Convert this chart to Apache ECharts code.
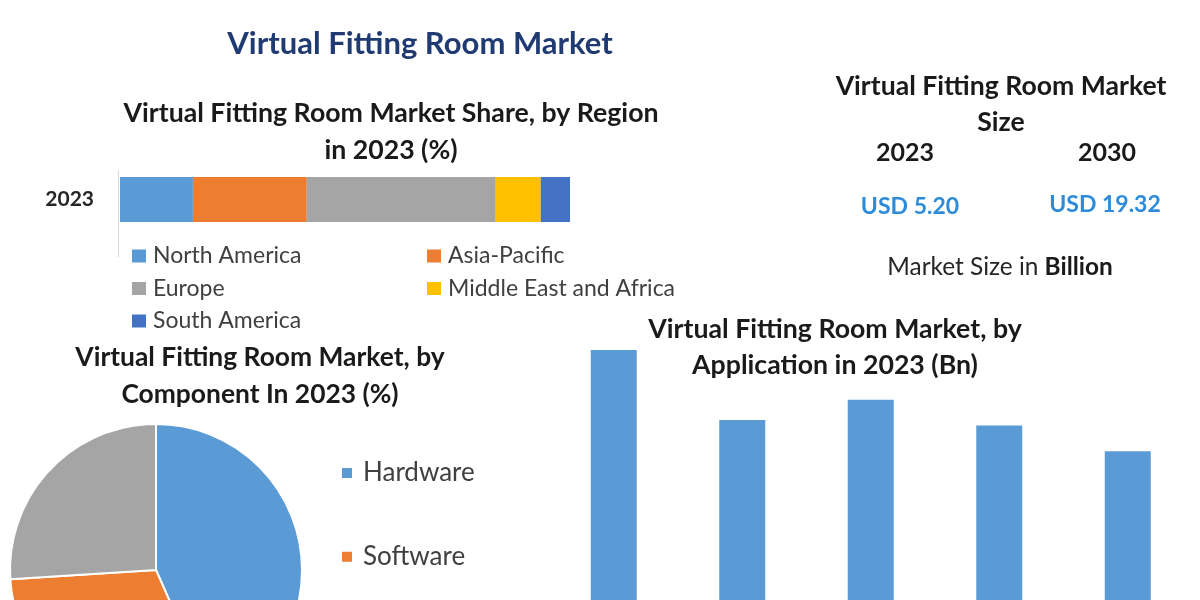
<!DOCTYPE html>
<html>
<head>
<meta charset="utf-8">
<script src="https://cdn.jsdelivr.net/npm/echarts@6/dist/echarts.min.js"></script>
<style>
  html, body { margin: 0; padding: 0; background: #fff; }
  #main { width: 1200px; height: 600px; }
</style>
</head>
<body>
<div id="main"></div>
<script>
// ---- Data ----
const regionYear = ['2023'];
const regionNames = ['North America', 'Asia-Pacific', 'Europe', 'Middle East and Africa', 'South America'];
const regionShares = [16.2, 25.3, 42.0, 10.0, 6.5];
const regionColors = ['#5B9BD5', '#ED7D31', '#A5A5A5', '#FFC000', '#4472C4'];

const componentNames = ['Hardware', 'Software', 'Services'];
const componentShares = [43.4, 30.6, 26.0];
const componentColors = ['#5B9BD5', '#ED7D31', '#A5A5A5'];

const applicationNames = ['Apparel', 'Beauty & Cosmetics', 'Eyewear', 'Jewelry & Watches', 'Others'];
const applicationValues = [1.36, 0.98, 1.09, 0.95, 0.81];

const sizeYears = ['2023', '2030'];
const sizeValues = ['USD 5.20', 'USD 19.32'];

// ---- Chart ----
const FONT = 'Lato, "Noto Sans", sans-serif';
const chart = echarts.init(document.getElementById('main'), null, { renderer: 'canvas' });

function txt(x, y, text, size, color, weight) {
  return {
    type: 'text', x: x, y: y, silent: true,
    style: {
      text: text, fill: color || '#1a1a1a',
      font: (weight || 'bold') + ' ' + size + 'px ' + FONT,
      align: 'center', verticalAlign: 'middle'
    }
  };
}

const regionSeries = regionNames.map((name, i) => ({
  name: name, type: 'bar', stack: 'region', xAxisIndex: 0, yAxisIndex: 0,
  barWidth: 45, data: [regionShares[i]],
  itemStyle: { color: regionColors[i] }, emphasis: { disabled: true }
}));

const legendText = { fontFamily: FONT, fontSize: 23, color: '#404040', lineHeight: 23, padding: [0, 0, 0, 2] };

const option = {
  backgroundColor: '#ffffff',
  animation: false,
  graphic: [
    txt(420, 44, 'Virtual Fitting Room Market', 31, '#203A72'),
    txt(391, 113, 'Virtual Fitting Room Market Share, by Region', 26.7),
    txt(391, 150, 'in 2023 (%)', 26.7),
    txt(260, 357, 'Virtual Fitting Room Market, by', 26.4),
    txt(260, 394, 'Component In 2023 (%)', 26.4),
    txt(835, 329, 'Virtual Fitting Room Market, by', 26.7),
    txt(835, 365, 'Application in 2023 (Bn)', 26.7),
    txt(1001, 86, 'Virtual Fitting Room Market', 26.6),
    txt(1001, 122, 'Size', 26.6),
    txt(905, 153, sizeYears[0], 25),
    txt(1107, 153, sizeYears[1], 25),
    txt(910, 207, sizeValues[0], 23, '#2E8BDA'),
    txt(1105, 205, sizeValues[1], 23, '#2E8BDA'),
    {
      type: 'text', x: 1000, y: 267, silent: true,
      style: {
        text: 'Market Size in {b|Billion}',
        fill: '#262626', font: 'normal 24.4px ' + FONT,
        align: 'center', verticalAlign: 'middle',
        rich: { b: { fontWeight: 'bold', fontSize: 24.4, fontFamily: FONT, fill: '#1a1a1a' } }
      }
    },
    { type: 'line', silent: true, shape: { x1: 118.5, y1: 170, x2: 118.5, y2: 257 },
      style: { stroke: '#D9D9D9', lineWidth: 1 } }
  ],
  legend: [
    { data: ['North America', 'Europe', 'South America'], orient: 'vertical', left: 132, top: 244.5, padding: 0,
      itemWidth: 14, itemHeight: 13, itemGap: 9.5, icon: 'rect', selectedMode: false, textStyle: legendText },
    { data: ['Asia-Pacific', 'Middle East and Africa'], orient: 'vertical', left: 427, top: 244.5, padding: 0,
      itemWidth: 14, itemHeight: 13, itemGap: 9.5, icon: 'rect', selectedMode: false, textStyle: legendText },
    { data: componentNames, orient: 'vertical', left: 340, top: 460, padding: 0, height: 400,
      itemWidth: 12, itemHeight: 12, itemGap: 57.7, icon: 'rect', selectedMode: false,
      textStyle: { fontFamily: FONT, fontSize: 26, color: '#404040', lineHeight: 26, padding: [0, 0, 0, 5] } }
  ],
  grid: [
    { left: 120, width: 450, top: 177, height: 45 },
    { left: 549.5, width: 642.5, top: 324.4, bottom: 0 }
  ],
  xAxis: [
    { type: 'value', gridIndex: 0, min: 0, max: 100, show: false },
    { type: 'category', gridIndex: 1, data: applicationNames,
      axisLine: { show: false }, axisTick: { show: false }, axisLabel: { show: false } }
  ],
  yAxis: [
    { type: 'category', gridIndex: 0, data: regionYear,
      axisLine: { show: false }, axisTick: { show: false },
      axisLabel: { margin: 26, fontFamily: FONT, fontSize: 21, fontWeight: 'bold', color: '#262626' } },
    { type: 'value', gridIndex: 1, min: 0, max: 1.5, show: false, splitLine: { show: false } }
  ],
  series: regionSeries.concat([
    {
      name: 'Application', type: 'bar', xAxisIndex: 1, yAxisIndex: 1,
      barWidth: 46, data: applicationValues,
      itemStyle: { color: '#5B9BD5' }, emphasis: { disabled: true }
    },
    {
      name: 'Component', type: 'pie', center: [156, 570], radius: 146,
      startAngle: 90, clockwise: true, label: { show: false }, labelLine: { show: false },
      itemStyle: { borderColor: '#ffffff', borderWidth: 2 },
      emphasis: { disabled: true },
      data: componentNames.map((n, i) => ({ name: n, value: componentShares[i], itemStyle: { color: componentColors[i] } }))
    }
  ])
};
chart.setOption(option);
</script>
</body>
</html>
